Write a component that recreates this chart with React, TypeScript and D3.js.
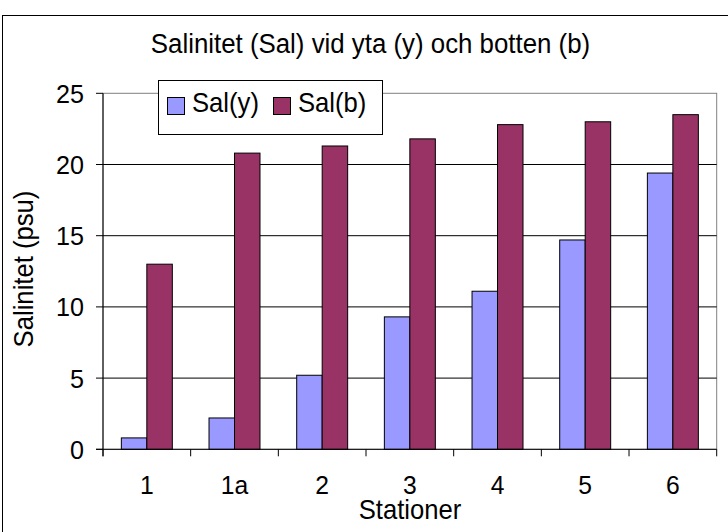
import React from "react";
import * as d3 from "d3";

// Stations along the transect and measured salinity (psu)
const stations = ["1", "1a", "2", "3", "4", "5", "6"];
const seriesNames = ["Sal(y)", "Sal(b)"];
const salSurface = [0.8, 2.2, 5.2, 9.3, 11.1, 14.7, 19.4];
const salBottom = [13.0, 20.8, 21.3, 21.8, 22.8, 23.0, 23.5];
const yTicks = [0, 5, 10, 15, 20, 25];
const seriesColors = ["#9999FF", "#993366"];

const W = 728;
const H = 532;
const plot = { left: 103, right: 716.7, top: 93.3, bottom: 449.3 };
const FONT = "Liberation Sans, Arial, Helvetica, sans-serif";

// Slightly narrowed text, anchored at (x, y)
function Label({
  x,
  y,
  size,
  anchor = "start",
  rotate = 0,
  sx = 0.95,
  dy,
  children,
}: {
  x: number;
  y: number;
  size: number;
  anchor?: "start" | "middle" | "end";
  rotate?: number;
  sx?: number;
  dy?: string;
  children: React.ReactNode;
}) {
  return (
    <g transform={`translate(${x},${y}) rotate(${rotate}) scale(${sx},1)`}>
      <text x={0} y={0} dy={dy} textAnchor={anchor} fontSize={size} fill="#000">
        {children}
      </text>
    </g>
  );
}

export default function App() {
  const x = d3
    .scaleBand<string>()
    .domain(stations)
    .range([plot.left, plot.right])
    .paddingInner(0)
    .paddingOuter(0);
  const xs = d3
    .scaleBand<string>()
    .domain(seriesNames)
    .range([0, x.bandwidth()])
    .paddingInner(0)
    .paddingOuter(0.72);
  const y = d3.scaleLinear().domain([0, 25]).range([plot.bottom, plot.top]);

  const seriesData = [salSurface, salBottom];
  const boundaries = d3.range(stations.length + 1).map(
    (i) => plot.left + i * x.step()
  );

  return (
    <svg
      width={W}
      height={H}
      style={{ position: "absolute", left: 0, top: 0, background: "#fff" }}
      fontFamily={FONT}
    >
      <rect x={0} y={0} width={W} height={H} fill="#fff" />
      {/* chart frame */}
      <rect x={2.5} y={15.5} width={800} height={600} fill="#fff" stroke="#000" strokeWidth={1} />

      {/* title */}
      <Label x={370.5} y={53} size={27.5} anchor="middle" sx={0.94}>
        Salinitet (Sal) vid yta (y) och botten (b)
      </Label>

      {/* plot area border */}
      <rect
        x={plot.left}
        y={plot.top}
        width={plot.right - plot.left}
        height={plot.bottom - plot.top}
        fill="#fff"
        stroke="#808080"
        strokeWidth={1}
      />

      {/* gridlines */}
      {yTicks.filter((t) => t > 0 && t < 25).map((t) => (
        <line
          key={"g" + t}
          x1={plot.left}
          x2={plot.right}
          y1={y(t)}
          y2={y(t)}
          stroke="#000"
          strokeWidth={1}
        />
      ))}

      {/* bars */}
      {seriesData.map((vals, si) =>
        vals.map((v, i) => (
          <rect
            key={si + "-" + i}
            x={(x(stations[i]) as number) + (xs(seriesNames[si]) as number)}
            y={y(v)}
            width={xs.bandwidth()}
            height={y(0) - y(v)}
            fill={seriesColors[si]}
            stroke="#000"
            strokeWidth={1}
          />
        ))
      )}

      {/* y axis */}
      <line x1={plot.left} x2={plot.left} y1={plot.top} y2={plot.bottom + 7} stroke="#000" />
      {yTicks.map((t) => (
        <g key={"yt" + t}>
          <line x1={plot.left - 7} x2={plot.left} y1={y(t)} y2={y(t)} stroke="#000" />
          <Label x={84} y={y(t)} dy="0.36em" anchor="end" size={26.5} sx={0.95}>
            {t}
          </Label>
        </g>
      ))}

      {/* x axis */}
      <line x1={plot.left - 7} x2={plot.right} y1={plot.bottom} y2={plot.bottom} stroke="#000" />
      {boundaries.map((bx, i) => (
        <line key={"xt" + i} x1={bx} x2={bx} y1={plot.bottom} y2={plot.bottom + 7} stroke="#000" />
      ))}
      {stations.map((s) => (
        <Label
          key={"xl" + s}
          x={(x(s) as number) + x.bandwidth() / 2}
          y={494}
          anchor="middle"
          size={26}
          sx={0.95}
        >
          {s}
        </Label>
      ))}

      {/* axis titles */}
      <Label x={410} y={519} anchor="middle" size={27} sx={0.95}>
        Stationer
      </Label>
      <Label x={33} y={269} anchor="middle" size={27} sx={0.95} rotate={-90}>
        Salinitet (psu)
      </Label>

      {/* legend */}
      <rect x={158.5} y={80.5} width={224} height={54} fill="#fff" stroke="#000" strokeWidth={1} />
      {seriesNames.map((name, i) => {
        const lx = i === 0 ? 167.5 : 273.5;
        return (
          <g key={"lg" + name}>
            <rect x={lx} y={97.5} width={17} height={17} fill={seriesColors[i]} stroke="#000" />
            <Label x={lx + 24.5} y={112} size={27} sx={0.95}>
              {name}
            </Label>
          </g>
        );
      })}
    </svg>
  );
}
